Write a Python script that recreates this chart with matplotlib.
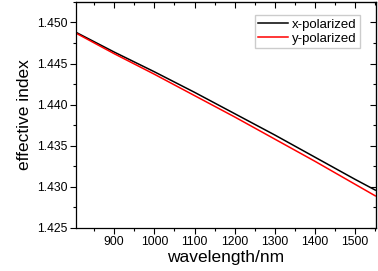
import numpy as np
import matplotlib
matplotlib.use("Agg")
import matplotlib.pyplot as plt
from matplotlib.ticker import MultipleLocator

plt.rcParams['font.family'] = ['Liberation Sans', 'DejaVu Sans']

wavelength = [805, 900, 1000, 1100, 1200, 1300, 1400, 1500, 1550]
n_x = [1.4488, 1.4464, 1.4440, 1.4415, 1.4389, 1.4363, 1.4336, 1.4309, 1.4296]
n_y = [1.4487, 1.4462, 1.4437, 1.4411, 1.4385, 1.4358, 1.4331, 1.4303, 1.4289]

fig = plt.figure(figsize=(3.78, 2.71), dpi=100)
ax = fig.add_axes([0.201, 0.159, 0.794, 0.834])

ax.plot(wavelength, n_x, color='black', lw=1.1, label='x-polarized')
ax.plot(wavelength, n_y, color='red', lw=1.1, label='y-polarized')

ax.set_xlim(805, 1552)
ax.set_ylim(1.425, 1.4525)
ax.xaxis.set_major_locator(MultipleLocator(100))
ax.xaxis.set_minor_locator(MultipleLocator(50))
ax.yaxis.set_major_locator(MultipleLocator(0.005))
ax.yaxis.set_minor_locator(MultipleLocator(0.0025))
ax.yaxis.set_major_formatter(matplotlib.ticker.FormatStrFormatter('%.3f'))

ax.tick_params(which='major', direction='out', length=4, width=0.8, labelsize=8.7, pad=2)
ax.tick_params(which='minor', direction='out', length=2, width=0.8)

# mirrored inward ticks on top and right
top = ax.secondary_xaxis('top')
top.xaxis.set_major_locator(MultipleLocator(100))
top.xaxis.set_minor_locator(MultipleLocator(50))
top.tick_params(which='both', direction='in', labeltop=False, width=0.8)
top.tick_params(which='major', length=4)
top.tick_params(which='minor', length=2)
right = ax.secondary_yaxis('right')
right.yaxis.set_major_locator(MultipleLocator(0.005))
right.yaxis.set_minor_locator(MultipleLocator(0.0025))
right.tick_params(which='both', direction='in', labelright=False, width=0.8)
right.tick_params(which='major', length=4)
right.tick_params(which='minor', length=2)

for s in ax.spines.values():
    s.set_linewidth(0.9)

ax.set_xlabel('wavelength/nm', fontsize=12.5, labelpad=1)
ax.set_ylabel('effective index', fontsize=12.5, labelpad=4)

ax.legend(loc='upper right', bbox_to_anchor=(0.947, 0.942), fontsize=9.5, frameon=True,
          fancybox=False, edgecolor='#cccccc', framealpha=1, handlelength=2.3,
          handletextpad=0.3, borderpad=0.25, labelspacing=0.15, borderaxespad=0)

fig.savefig('out.png', dpi=100)
